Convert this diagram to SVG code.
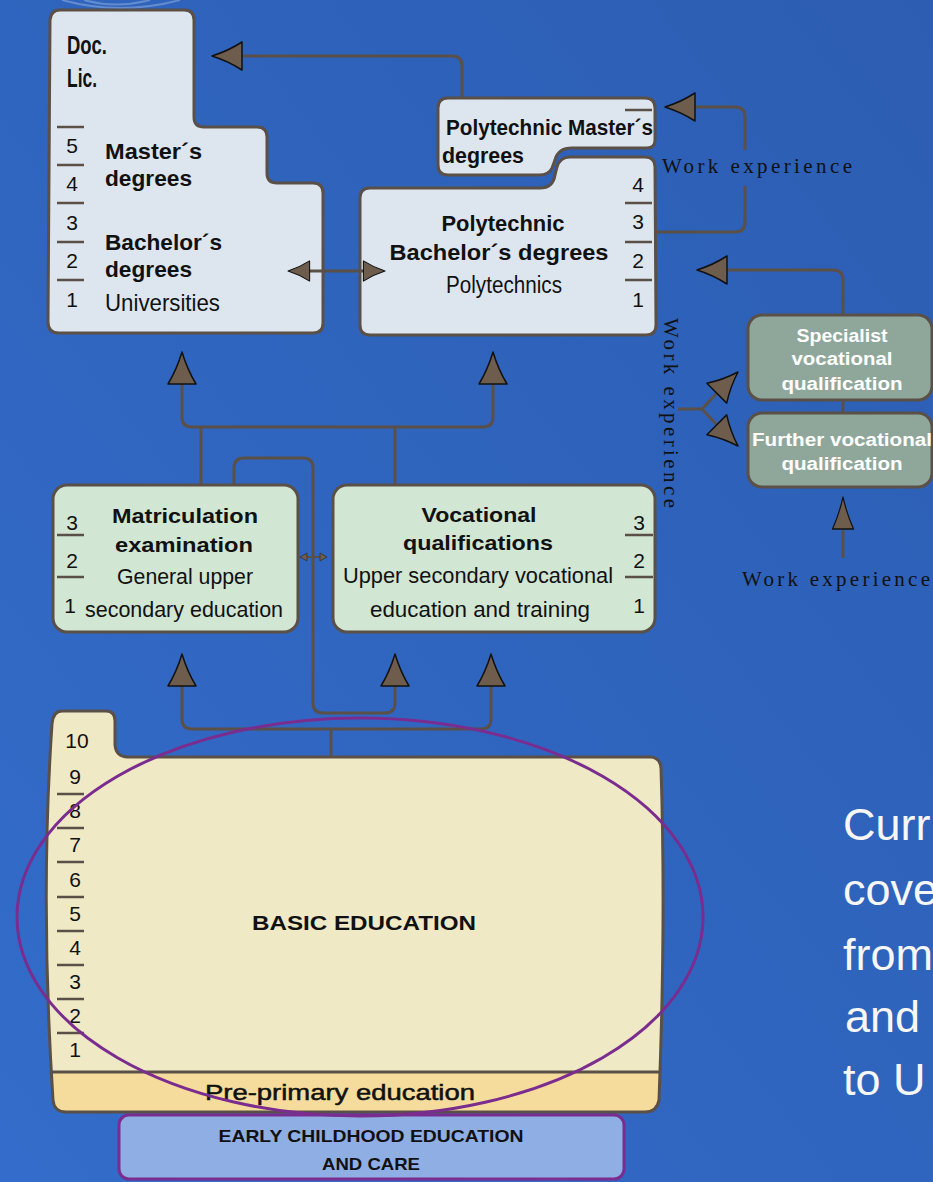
<svg xmlns="http://www.w3.org/2000/svg" xmlns:xlink="http://www.w3.org/1999/xlink" width="933" height="1182" viewBox="0 0 933 1182">
<style>
.box{stroke:#5b5047;stroke-width:3;stroke-linejoin:round}
.uni{fill:#dde6ef}
.sec{fill:#d1e6d3}
.spec{fill:#8fa79b}
.conn{fill:none;stroke:#5b5047;stroke-width:3;stroke-linejoin:round}
.div{stroke:#5b5047;stroke-width:2.5}
.ah{fill:#6e5c4c;stroke:#111;stroke-width:1.5;stroke-linejoin:round}
.t{font-family:"Liberation Sans",Arial,sans-serif;fill:#111}
.b{font-weight:bold}
.num{font-size:21px}
.w{fill:#fff;font-weight:bold;font-size:18px}
.serif{font-family:"Liberation Serif","Times New Roman",serif;font-size:21px;fill:#111}
.big{font-family:"Liberation Sans",Arial,sans-serif;font-size:45px;fill:#f7f7f7}
.ec{font-family:"Liberation Sans",Arial,sans-serif;font-size:17px;font-weight:bold;fill:#111}
</style>
<defs>
<linearGradient id="bg" x1="0" y1="1" x2="1" y2="0">
<stop offset="0" stop-color="#336cca"/>
<stop offset="1" stop-color="#2c5db2"/>
</linearGradient>
<path id="ahUp" d="M0,0 C3,10 8,22 14,32 L-14,32 C-8,22 -3,10 0,0 Z"/>
<path id="ahLeft" d="M0,0 Q16,-5 30,-14 L30,14 Q16,5 0,0 Z"/>
<path id="basicShape" d="M62,711 L106,711 Q115,711 115,721 L115,745 Q116,757 128,757 L650,757 Q660,757 661,768 Q666,920 659,1100 Q657,1112 645,1112 L66,1112 Q54,1112 53,1100 Q40,900 52,724 Q53,711 62,711 Z"/>
<clipPath id="clipTop"><rect x="0" y="0" width="933" height="1072"/></clipPath>
<clipPath id="clipBasic"><use xlink:href="#basicShape"/></clipPath>
</defs>

<rect width="933" height="1182" fill="url(#bg)"/>
<path d="M62,0 Q120,16 180,0 M84,0 Q116,9 150,0" fill="none" stroke="#c9d6f0" stroke-opacity="0.35" stroke-width="2"/>

<g id="universities">
<path class="box uni" d="M60,10 L184,10 Q194,10 194,20 L194,117 Q194,127 204,127 L257,127 Q267,127 267,137 L267,173 Q267,183 277,183 L313,183 Q323,183 323,193 L323,323 Q323,333 313,333 L59,333 Q48,333 48,322 L50,20 Q51,10 60,10 Z"/>
<text class="t b" x="67" y="54" font-size="25" textLength="40" lengthAdjust="spacingAndGlyphs">Doc.</text>
<text class="t b" x="67" y="87" font-size="25" textLength="30" lengthAdjust="spacingAndGlyphs">Lic.</text>
<path class="div" d="M57,127 H84 M57,165 H84 M57,203 H84 M57,242 H84 M57,280 H84"/>
<text class="t num" x="72" y="153" text-anchor="middle">5</text>
<text class="t num" x="72" y="191" text-anchor="middle">4</text>
<text class="t num" x="72" y="230" text-anchor="middle">3</text>
<text class="t num" x="72" y="268" text-anchor="middle">2</text>
<text class="t num" x="72" y="307" text-anchor="middle">1</text>
<text class="t b" x="105" y="159" font-size="22" textLength="97" lengthAdjust="spacingAndGlyphs">Master´s</text>
<text class="t b" x="105" y="186" font-size="22" textLength="87" lengthAdjust="spacingAndGlyphs">degrees</text>
<text class="t b" x="105" y="250" font-size="22" textLength="117" lengthAdjust="spacingAndGlyphs">Bachelor´s</text>
<text class="t b" x="105" y="277" font-size="22" textLength="87" lengthAdjust="spacingAndGlyphs">degrees</text>
<text class="t" x="105" y="311" font-size="24" textLength="115" lengthAdjust="spacingAndGlyphs">Universities</text>
</g>

<g id="polytechnic-master">
<path class="box uni" d="M448,98 L645,98 Q655,98 655,108 L655,140 Q655,148 647,148 L572,148 Q558,148 555,160 L552,168 Q549,175 539,175 L448,175 Q438,175 438,165 L438,108 Q438,98 448,98 Z"/>
<path class="div" d="M625,110 H652"/>
<text class="t b" x="446" y="135" font-size="22" textLength="207" lengthAdjust="spacingAndGlyphs">Polytechnic Master´s</text>
<text class="t b" x="442" y="163" font-size="22" textLength="82" lengthAdjust="spacingAndGlyphs">degrees</text>
</g>

<g id="polytechnics">
<path class="box uni" d="M370,188 L540,188 Q553,188 555,175 L557,167 Q560,157 570,157 L645,157 Q655,157 655,167 L656,325 Q656,335 646,335 L370,335 Q360,335 360,325 L360,198 Q360,188 370,188 Z"/>
<path class="div" d="M625,203 H652 M625,242 H652 M625,280 H652"/>
<text class="t num" x="638" y="192" text-anchor="middle">4</text>
<text class="t num" x="638" y="229" text-anchor="middle">3</text>
<text class="t num" x="638" y="268" text-anchor="middle">2</text>
<text class="t num" x="638" y="307" text-anchor="middle">1</text>
<text class="t b" x="503" y="231" font-size="22" text-anchor="middle" textLength="123" lengthAdjust="spacingAndGlyphs">Polytechnic</text>
<text class="t b" x="499" y="260" font-size="22" text-anchor="middle" textLength="219" lengthAdjust="spacingAndGlyphs">Bachelor´s degrees</text>
<text class="t" x="504" y="293" font-size="23" text-anchor="middle" textLength="116" lengthAdjust="spacingAndGlyphs">Polytechnics</text>
</g>

<g id="work-experience-labels">
<text class="serif" x="662" y="173" textLength="190" lengthAdjust="spacing">Work experience</text>
<text class="serif" transform="translate(664,318) rotate(90)" x="0" y="0" textLength="190" lengthAdjust="spacing">Work experience</text>
<text class="serif" x="742" y="586" textLength="188" lengthAdjust="spacing">Work experience</text>
</g>

<g id="specialist">
<rect class="box spec" x="748" y="315" width="184" height="85" rx="14"/>
<text class="t w" x="842" y="342" text-anchor="middle" textLength="91" lengthAdjust="spacingAndGlyphs">Specialist</text>
<text class="t w" x="842" y="365" text-anchor="middle" textLength="101" lengthAdjust="spacingAndGlyphs">vocational</text>
<text class="t w" x="842" y="390" text-anchor="middle" textLength="121" lengthAdjust="spacingAndGlyphs">qualification</text>
</g>

<g id="further">
<rect class="box spec" x="748" y="413" width="184" height="74" rx="14"/>
<text class="t w" x="842" y="446" text-anchor="middle" textLength="180" lengthAdjust="spacingAndGlyphs">Further vocational</text>
<text class="t w" x="842" y="470" text-anchor="middle" textLength="121" lengthAdjust="spacingAndGlyphs">qualification</text>
</g>

<g id="matriculation">
<rect class="box sec" x="53" y="485" width="245" height="147" rx="14"/>
<path class="div" d="M57,535 H84 M57,577 H84"/>
<text class="t num" x="72" y="530" text-anchor="middle">3</text>
<text class="t num" x="72" y="568" text-anchor="middle">2</text>
<text class="t num" x="70" y="613" text-anchor="middle">1</text>
<text class="t b" x="185" y="523" font-size="21" text-anchor="middle" textLength="146" lengthAdjust="spacingAndGlyphs">Matriculation</text>
<text class="t b" x="184" y="552" font-size="21" text-anchor="middle" textLength="138" lengthAdjust="spacingAndGlyphs">examination</text>
<text class="t" x="185" y="584" font-size="22" text-anchor="middle" textLength="136" lengthAdjust="spacingAndGlyphs">General upper</text>
<text class="t" x="184" y="617" font-size="22" text-anchor="middle" textLength="198" lengthAdjust="spacingAndGlyphs">secondary education</text>
</g>

<g id="vocational">
<rect class="box sec" x="333" y="485" width="322" height="147" rx="14"/>
<path class="div" d="M625,535 H653 M625,577 H653"/>
<text class="t num" x="639" y="530" text-anchor="middle">3</text>
<text class="t num" x="639" y="568" text-anchor="middle">2</text>
<text class="t num" x="639" y="613" text-anchor="middle">1</text>
<text class="t b" x="479" y="522" font-size="21" text-anchor="middle" textLength="115" lengthAdjust="spacingAndGlyphs">Vocational</text>
<text class="t b" x="478" y="550" font-size="21" text-anchor="middle" textLength="150" lengthAdjust="spacingAndGlyphs">qualifications</text>
<text class="t" x="478" y="583" font-size="22" text-anchor="middle" textLength="270" lengthAdjust="spacingAndGlyphs">Upper secondary vocational</text>
<text class="t" x="480" y="617" font-size="22" text-anchor="middle" textLength="220" lengthAdjust="spacingAndGlyphs">education and training</text>
</g>

<g id="basic-education">
<use xlink:href="#basicShape" fill="#f5dc9c"/>
<use xlink:href="#basicShape" fill="#efe9c5" clip-path="url(#clipTop)"/>
<line x1="40" y1="1072" x2="670" y2="1072" stroke="#5b5047" stroke-width="3" clip-path="url(#clipBasic)"/>
<use xlink:href="#basicShape" class="box" fill="none"/>
<path class="div" d="M57,794 H84 M57,828 H84 M57,862 H84 M57,897 H84 M57,931 H84 M57,965 H84 M57,999 H84 M57,1033 H84"/>
<text class="t num" x="77" y="748" text-anchor="middle">10</text>
<text class="t num" x="75" y="784" text-anchor="middle">9</text>
<text class="t num" x="75" y="818" text-anchor="middle">8</text>
<text class="t num" x="75" y="852" text-anchor="middle">7</text>
<text class="t num" x="75" y="887" text-anchor="middle">6</text>
<text class="t num" x="75" y="921" text-anchor="middle">5</text>
<text class="t num" x="75" y="955" text-anchor="middle">4</text>
<text class="t num" x="75" y="989" text-anchor="middle">3</text>
<text class="t num" x="75" y="1023" text-anchor="middle">2</text>
<text class="t num" x="75" y="1057" text-anchor="middle">1</text>
<text class="t b" x="364" y="930" font-size="21" text-anchor="middle" textLength="224" lengthAdjust="spacingAndGlyphs">BASIC EDUCATION</text>
<text class="t" x="205" y="1100" font-size="22" stroke="#111" stroke-width="0.5" textLength="270" lengthAdjust="spacingAndGlyphs">Pre-primary education</text>
</g>

<g id="early-childhood">
<rect x="119" y="1115" width="505" height="64" rx="10" fill="#8faee3" stroke="#7b2c8f" stroke-width="3"/>
<text class="ec" x="371" y="1142" text-anchor="middle" textLength="305" lengthAdjust="spacingAndGlyphs">EARLY CHILDHOOD EDUCATION</text>
<text class="ec" x="371" y="1170" text-anchor="middle" textLength="98" lengthAdjust="spacingAndGlyphs">AND CARE</text>
</g>

<g id="connectors">
<path class="conn" d="M462,98 L462,66 Q462,56 452,56 L243,56"/>
<use xlink:href="#ahLeft" class="ah" x="212" y="56"/>
<path class="conn" d="M308,271 L365,271"/>
<use xlink:href="#ahLeft" class="ah" transform="translate(288,271) scale(0.72)"/>
<use xlink:href="#ahLeft" class="ah" transform="translate(385,271) rotate(180) scale(0.72)"/>
<path class="conn" d="M656,232 L735,232 Q745,232 745,222 L745,186 M745,150 L745,117 Q745,107 735,107 L695,107"/>
<use xlink:href="#ahLeft" class="ah" x="665" y="107"/>
<path class="conn" d="M843,315 L843,280 Q843,270 833,270 L728,270"/>
<use xlink:href="#ahLeft" class="ah" x="697" y="270"/>
<path class="conn" d="M843,400 L843,413"/>
<path class="conn" d="M678,409 L702,409 L717,393 M702,409 L717,425"/>
<use xlink:href="#ahLeft" class="ah" transform="translate(738,372) rotate(135)"/>
<use xlink:href="#ahLeft" class="ah" transform="translate(738,446) rotate(-135)"/>
<path class="conn" d="M843,530 L843,558"/>
<use xlink:href="#ahUp" class="ah" transform="translate(843,497) scale(0.75,1)"/>
<path class="conn" d="M182,384 L182,417 Q182,427 192,427 L483,427 Q493,427 493,417 L493,384 M201,427 L201,485 M395,427 L395,485"/>
<use xlink:href="#ahUp" class="ah" x="182" y="352"/>
<use xlink:href="#ahUp" class="ah" x="493" y="352"/>
<path class="conn" d="M234,485 L234,468 Q234,458 244,458 L303,458 Q313,458 313,468 L313,703 Q313,713 323,713 L385,713 Q395,713 395,703 L395,686"/>
<path class="conn" d="M182,686 L182,719 Q182,729 192,729 L481,729 Q491,729 491,719 L491,686 M331,729 L331,757"/>
<use xlink:href="#ahUp" class="ah" x="182" y="654"/>
<use xlink:href="#ahUp" class="ah" x="395" y="654"/>
<use xlink:href="#ahUp" class="ah" x="491" y="654"/>
<path d="M306,557 L321,557" stroke="#5b5047" stroke-width="2"/>
<path d="M300,557 L307,553 L307,561 Z M327,557 L320,553 L320,561 Z" fill="#6e5c4c" stroke="#333" stroke-width="0.8"/>
</g>

<ellipse id="highlight" cx="360" cy="917" rx="343" ry="199" fill="none" stroke="#7b2c8f" stroke-width="3"/>

<g id="side-text">
<text class="big" x="843" y="840">Curr</text>
<text class="big" x="843" y="905">cove</text>
<text class="big" x="843" y="970">from</text>
<text class="big" x="845" y="1032">and</text>
<text class="big" x="843" y="1095">to U</text>
</g>
</svg>
